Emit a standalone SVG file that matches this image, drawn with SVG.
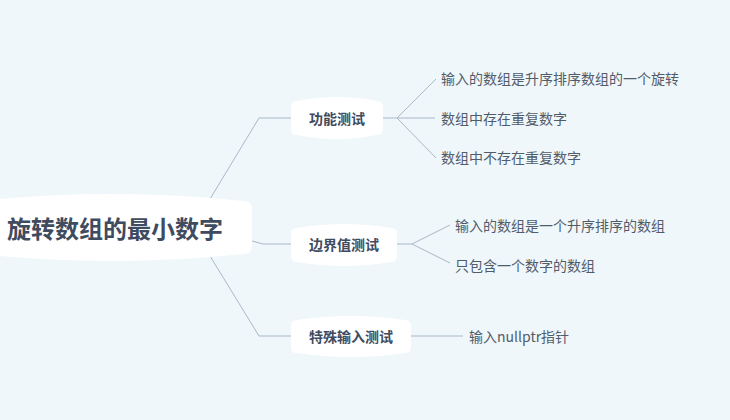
<svg xmlns="http://www.w3.org/2000/svg" width="730" height="420" viewBox="0 0 730 420">
<style>
.bg{fill:#eff7fa}
.node{fill:#ffffff}
.root{font-family:"Noto Sans CJK SC","Noto Sans",sans-serif;font-size:24px;font-weight:bold;fill:#3f4b5f}
.lbl{font-family:"Noto Sans CJK SC","Noto Sans",sans-serif;font-size:14px;font-weight:bold;fill:#3f4b5f}
.leaf{font-family:"Noto Sans CJK SC","Noto Sans",sans-serif;font-size:14px;fill:#515c6b}
.conn path{fill:none;stroke:#a9b8c8;stroke-width:1}
</style>
<rect class="bg" x="0" y="0" width="730" height="420"/>
<g class="conn" id="connectors">
<path d="M210,199 L259,118 L291,118"/>
<path d="M252,241 L263,244 L291,244"/>
<path d="M210,256 L259,336 L291,336"/>
<path d="M383,118 L397,118 L436,79"/>
<path d="M397,118 L435,118"/>
<path d="M397,118 L436,158"/>
<path d="M397,244 L412,244 L450,225"/>
<path d="M412,244 L450,263"/>
<path d="M411,336 L463,336"/>
</g>
<g id="root">
<path class="node" d="M-30,209 Q-30,201 -22,201 Q111,187 244,201 Q252,201 252,209 L252,246 Q252,254 244,254 Q111,268 -22,254 Q-30,254 -30,246 Z"/>
<text class="root" x="7" y="227" dominant-baseline="central">旋转数组的最小数字</text>
</g>
<g id="n1">
<path class="node" d="M291,107 Q291,101 297,101 Q337,93 377,101 Q383,101 383,107 L383,129 Q383,135 377,135 Q337,143 297,135 Q291,135 291,129 Z"/>
<text class="lbl" x="337" y="118" text-anchor="middle" dominant-baseline="central">功能测试</text>
</g>
<g id="n2">
<path class="node" d="M291,234 Q291,228 297,228 Q344,220 391,228 Q397,228 397,234 L397,256 Q397,262 391,262 Q344,270 297,262 Q291,262 291,256 Z"/>
<text class="lbl" x="344" y="244" text-anchor="middle" dominant-baseline="central">边界值测试</text>
</g>
<g id="n3">
<path class="node" d="M291,326 Q291,320 297,320 Q351,312 405,320 Q411,320 411,326 L411,347 Q411,353 405,353 Q351,361 297,353 Q291,353 291,347 Z"/>
<text class="lbl" x="351" y="336" text-anchor="middle" dominant-baseline="central">特殊输入测试</text>
</g>
<g id="l1"><text class="leaf" x="441" y="78" dominant-baseline="central">输入的数组是升序排序数组的一个旋转</text></g>
<g id="l2"><text class="leaf" x="441" y="118" dominant-baseline="central">数组中存在重复数字</text></g>
<g id="l3"><text class="leaf" x="441" y="157" dominant-baseline="central">数组中不存在重复数字</text></g>
<g id="l4"><text class="leaf" x="455" y="225" dominant-baseline="central">输入的数组是一个升序排序的数组</text></g>
<g id="l5"><text class="leaf" x="455" y="265" dominant-baseline="central">只包含一个数字的数组</text></g>
<g id="l6"><text class="leaf" x="469" y="336" dominant-baseline="central">输入nullptr指针</text></g>
</svg>
